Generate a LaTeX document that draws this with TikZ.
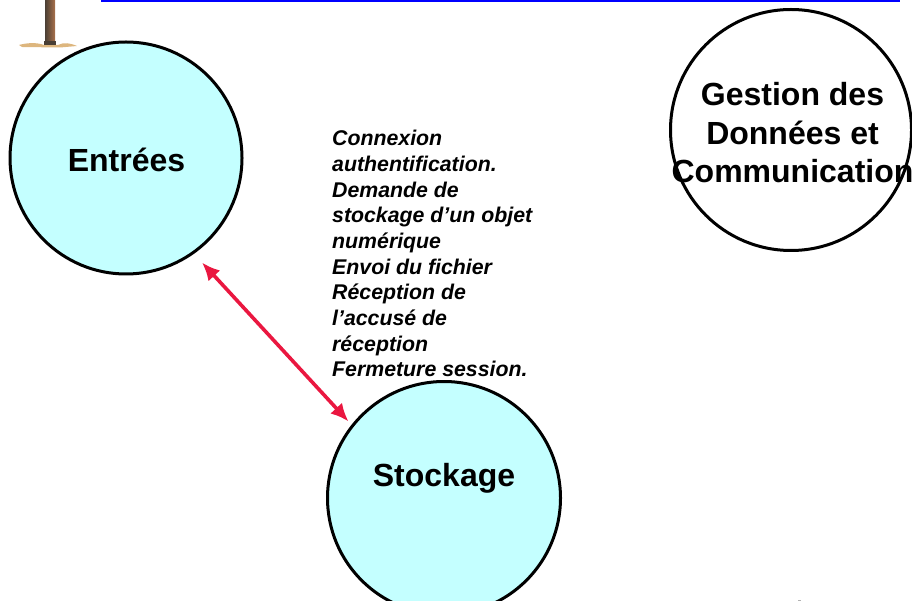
\documentclass[tikz,border=0pt]{standalone}
\usepackage{fontspec}
\setmainfont{Liberation Sans}
\usetikzlibrary{arrows.meta}
\definecolor{cyanfill}{HTML}{C4FFFF}
\definecolor{linkred}{HTML}{EA1740}
\definecolor{sand}{HTML}{DDB67E}
\definecolor{trunkdark}{HTML}{4A3F35}
\definecolor{trunklight}{HTML}{A9704A}
\tikzset{
  proc/.style={circle,draw=black,line width=3pt,inner sep=0pt,align=center},
  biglabel/.style={font=\fontsize{32}{38.5}\selectfont\bfseries,align=center},
  link/.style={draw=linkred,line width=3.6pt,{Latex[length=18pt,width=16pt]}-{Latex[length=18pt,width=16pt]}},
}
\begin{document}
\begin{tikzpicture}[x=1pt,y=-1pt]
\useasboundingbox (0,0) rectangle (912,601);
% blue rule
\fill[blue] (101,-1) rectangle (900,1.6);
% tree
\fill[sand] (19,45) .. controls (26,43) and (36,42) .. (44,45) -- (58,45) .. controls (64,42) and (70,43) .. (77,46) -- (60,47.5) -- (22,47) -- cycle;
\fill[left color=trunkdark,right color=trunklight] (45,0) rectangle (55,42);
\fill[trunkdark] (44,41) rectangle (56,45);
% circles
\node[proc,fill=cyanfill,minimum size=232pt] (entrees) at (126,158) {};
\node[proc,fill=white,minimum size=241pt] (gestion) at (791,130) {};
\node[proc,fill=cyanfill,minimum size=233pt] (stockage) at (444,498) {};
% labels
\node[biglabel] (lentrees) at (126.5,160) {Entrées};
\node[biglabel] (lstockage) at (444,478) {Stockage};
\node[biglabel] (lgestion) at (792.5,133) {Gestion des\\Données et\\Communication};
% description
\node[anchor=north west,inner sep=0pt,align=left,font=\fontsize{21.3}{25.7}\selectfont\bfseries\itshape] (desc) at (332,130) {Connexion\\authentification.\\Demande de\\stockage d’un objet\\numérique\\Envoi du fichier\\Réception de\\l’accusé de\\réception\\Fermeture session.};
% link
\coordinate (a) at (202,262.5);
\coordinate (b) at (348.5,421.5);
\draw[link] (a) -- (b);
% tiny mark
\fill[gray!60] (798,600) rectangle (801,601);
\end{tikzpicture}
\end{document}
